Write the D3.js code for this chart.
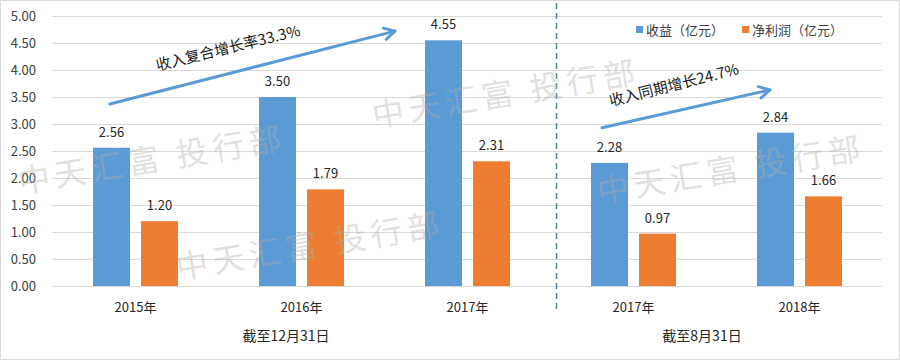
<!DOCTYPE html>
<html>
<head>
<meta charset="utf-8">
<script src="https://cdn.jsdelivr.net/npm/d3@7"></script>
<style>
  html, body { margin: 0; padding: 0; background: #fff; }
  svg { display: block; font-family: "Noto Sans CJK SC", "Noto Sans", sans-serif; }
</style>
</head>
<body>
<svg id="chart" width="900" height="361"></svg>
<script>
// ---- data ----
const categories = ["2015年", "2016年", "2017年", "2017年", "2018年"];
const revenue = [2.56, 3.50, 4.55, 2.28, 2.84];
const netProfit = [1.20, 1.79, 2.31, 0.97, 1.66];
const seriesNames = ["收益（亿元）", "净利润（亿元）"];
const yTicks = [0, 0.5, 1, 1.5, 2, 2.5, 3, 3.5, 4, 4.5, 5];
const groupLabels = ["截至12月31日", "截至8月31日"];
const annotations = ["收入复合增长率33.3%", "收入同期增长24.7%"];
// arrows in data units: [category position (0..5), value]
const arrow1 = [[0.346, 3.37], [2.063, 4.72]];
const arrow2 = [[3.31, 2.93], [4.322, 3.63]];
const watermark = "中天汇富 投行部";

const colors = ["#5b9bd5", "#ed7d31"];

const svg = d3.select("#chart");
const W = 900, H = 361;
const plot = { left: 52.5, right: 882.5, top: 16, bottom: 286 };

const y = d3.scaleLinear().domain([0, 5]).range([plot.bottom, plot.top]);
const x = d3.scaleBand().domain(d3.range(categories.length)).range([plot.left, plot.right]).padding(0);
const xu = d3.scaleLinear().domain([0, categories.length]).range([plot.left, plot.right]);
const xi = d3.scaleBand().domain([0, 1]).range([0, x.bandwidth()]).paddingInner(0.229).paddingOuter(0.844);

// border
svg.append("rect").attr("x", 0.5).attr("y", 0.5).attr("width", W - 1).attr("height", H - 2)
  .attr("fill", "#fff").attr("stroke", "#d9d9d9");

// gridlines
svg.append("g").selectAll("line").data(yTicks.filter(d => d > 0)).join("line")
  .attr("x1", plot.left).attr("x2", plot.right)
  .attr("y1", d => Math.round(y(d)) + 0.5).attr("y2", d => Math.round(y(d)) + 0.5)
  .attr("stroke", "#d9d9d9").attr("stroke-width", 1);

// y tick labels
svg.append("g").selectAll("text").data(yTicks).join("text")
  .attr("x", 36).attr("y", d => y(d))
  .attr("dy", "0.35em").attr("text-anchor", "end")
  .attr("font-size", 13).attr("fill", "#404040")
  .text(d => d3.format(".2f")(d));

// bars
const series = [revenue, netProfit];
series.forEach((vals, s) => {
  const g = svg.append("g");
  g.selectAll("rect").data(vals).join("rect")
    .attr("x", (d, i) => x(i) + xi(s))
    .attr("width", xi.bandwidth())
    .attr("y", d => y(d))
    .attr("height", d => y(0) - y(d))
    .attr("fill", colors[s]);
  g.selectAll("text").data(vals).join("text")
    .attr("x", (d, i) => x(i) + xi(s) + xi.bandwidth() / 2)
    .attr("y", d => y(d) - 11)
    .attr("text-anchor", "middle")
    .attr("font-size", 13).attr("fill", "#262626")
    .text(d => d3.format(".2f")(d));
});

// x axis line
svg.append("line").attr("x1", plot.left).attr("x2", plot.right)
  .attr("y1", plot.bottom + 0.5).attr("y2", plot.bottom + 0.5)
  .attr("stroke", "#d9d9d9");

// category labels
svg.append("g").selectAll("text").data(categories).join("text")
  .attr("x", (d, i) => x(i) + x.bandwidth() / 2)
  .attr("y", 312)
  .attr("text-anchor", "middle")
  .attr("font-size", 13).attr("fill", "#262626")
  .text(d => d);

// group labels
const groupX = [286, 702];
svg.append("g").selectAll("text").data(groupLabels).join("text")
  .attr("x", (d, i) => groupX[i]).attr("y", 341)
  .attr("text-anchor", "middle")
  .attr("font-size", 14).attr("fill", "#262626")
  .text(d => d);

// dashed separator
svg.append("line").attr("x1", 556.5).attr("x2", 556.5).attr("y1", 3).attr("y2", 311)
  .attr("stroke", "#5a7fa8").attr("stroke-width", 1.5).attr("stroke-dasharray", "6,4");

// legend
const legX = [636, 742];
seriesNames.forEach((name, i) => {
  svg.append("rect").attr("x", legX[i]).attr("y", 26).attr("width", 7).attr("height", 7).attr("fill", colors[i]);
  svg.append("text").attr("x", legX[i] + 10).attr("y", 30).attr("dy", "0.35em")
    .attr("font-size", 13).attr("fill", "#404040").text(name);
});

// arrows
function drawArrow(pts) {
  const [a, b] = pts.map(p => [xu(p[0]), y(p[1])]);
  svg.append("line").attr("x1", a[0]).attr("y1", a[1]).attr("x2", b[0]).attr("y2", b[1])
    .attr("stroke", "#5b9bd5").attr("stroke-width", 3).attr("stroke-linecap", "round");
  const ang = Math.atan2(b[1] - a[1], b[0] - a[0]);
  const L = 12, spread = 0.5;
  const p1 = [b[0] - L * Math.cos(ang - spread), b[1] - L * Math.sin(ang - spread)];
  const p2 = [b[0] - L * Math.cos(ang + spread), b[1] - L * Math.sin(ang + spread)];
  svg.append("path").attr("d", `M${p1[0]},${p1[1]}L${b[0]},${b[1]}L${p2[0]},${p2[1]}`)
    .attr("fill", "none").attr("stroke", "#5b9bd5").attr("stroke-width", 3)
    .attr("stroke-linecap", "round").attr("stroke-linejoin", "round");
}
drawArrow(arrow1);
drawArrow(arrow2);

// annotation texts
const annPos = [[228, 48, -13.8], [674, 85, -14]];
annotations.forEach((t, i) => {
  svg.append("text")
    .attr("transform", `translate(${annPos[i][0]},${annPos[i][1]}) rotate(${annPos[i][2]})`)
    .attr("text-anchor", "middle").attr("dy", "0.35em")
    .attr("font-size", 15).attr("fill", "#1a1a1a").text(t);
});

// watermarks
const wmPos = [[152, 160], [310, 246], [506, 94], [731, 170]];
svg.append("g").selectAll("text").data(wmPos).join("text")
  .attr("transform", d => `translate(${d[0]},${d[1]}) rotate(-9.5)`)
  .attr("text-anchor", "middle").attr("dy", "0.35em")
  .attr("font-size", 32).attr("letter-spacing", 5)
  .attr("fill", "#b0b0b0").attr("fill-opacity", 0.4)
  .text(watermark);
</script>
</body>
</html>
